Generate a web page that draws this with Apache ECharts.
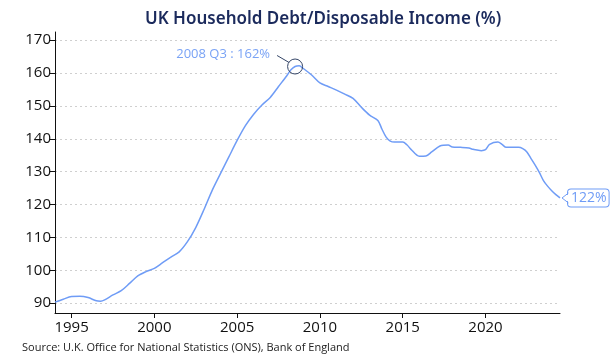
<!DOCTYPE html>
<html><head><meta charset="utf-8">
<script src="https://cdn.jsdelivr.net/npm/echarts@6/dist/echarts.min.js"></script>
<style>html,body{margin:0;padding:0;background:#fff}#c{width:610px;height:355px}</style>
</head><body><div id="c"></div>
<script>
const years = [1994.0,1994.5,1995.0,1995.5,1996.0,1996.5,1996.75,1997.0,1997.5,1998.0,1998.5,1999.0,1999.5,2000.0,2000.5,2001.0,2001.5,2002.0,2002.5,2003.0,2003.5,2004.0,2004.5,2005.0,2005.5,2006.0,2006.5,2007.0,2007.5,2008.0,2008.25,2008.5,2008.75,2009.0,2009.5,2010.0,2010.5,2011.0,2011.5,2012.0,2012.5,2013.0,2013.5,2013.75,2014.0,2014.25,2014.5,2015.0,2015.25,2015.5,2016.0,2016.4,2016.75,2017.25,2017.75,2018.0,2018.5,2019.0,2019.25,2019.75,2020.0,2020.25,2020.75,2021.0,2021.25,2022.0,2022.25,2022.5,2022.75,2023.0,2023.25,2023.5,2023.75,2024.0,2024.25,2024.5];
const debtRatio = [90.3,91.2,92.0,92.1,91.7,90.7,90.6,91.0,92.5,93.8,96.0,98.3,99.6,100.6,102.3,104.0,105.6,108.7,113.0,118.5,124.4,129.5,134.5,139.5,144.0,147.5,150.3,152.6,155.9,159.2,161.0,162.0,162.2,161.4,159.4,157.0,155.9,154.8,153.6,152.3,149.6,147.2,145.6,142.9,140.5,139.3,139.0,139.0,138.2,136.8,134.7,134.8,136.0,137.8,138.1,137.5,137.4,137.2,136.8,136.4,136.7,138.3,139.0,138.3,137.4,137.4,137.0,136.0,134.0,132.0,129.8,127.3,125.6,124.2,123.0,122.0];
const xTicks = [1995,2000,2005,2010,2015,2020];
const yTicks = [90,100,110,120,130,140,150,160,170];
const peakYear = 2008.5, peakValue = 162, peakLabel = '2008 Q3 : 162%';

const blue = '#6f9cf6';
const chart = echarts.init(document.getElementById('c'));
const seriesData = years.map((y,i)=>[y, debtRatio[i]]);
const font = '"Open Sans", sans-serif';
chart.setOption({
  animation:false,
  title:[{
    text:'UK Household Debt/Disposable Income (%)',
    left:140, top:6,
    textStyle:{fontFamily:'"Noto Sans", sans-serif', fontSize:17, fontWeight:600, color:'#1b2a5c'}
  },{
    text:'Source: U.K. Office for National Statistics (ONS), Bank of England',
    left:22, top:342, padding:0,
    textStyle:{fontFamily:font, fontSize:11, fontWeight:'normal', color:'#222'}
  }],
  grid:{left:55, right:50, top:32, bottom:42},
  xAxis:{
    type:'value', min:1994, max:2024.5,
    axisLine:{lineStyle:{color:'#111', width:1}},
    axisTick:{show:true, length:5, lineStyle:{color:'#111'}, customValues:xTicks},
    axisLabel:{customValues:xTicks, formatter:v=>String(v), fontFamily:font, fontSize:15, color:'#111', margin:7},
    splitLine:{show:false}
  },
  yAxis:{
    type:'value', min:87, max:172.5,
    axisLine:{show:true, lineStyle:{color:'#111', width:1}},
    axisTick:{show:true, length:5, lineStyle:{color:'#111'}, customValues:yTicks},
    axisLabel:{customValues:yTicks, formatter:v=>String(v), fontFamily:font, fontSize:15, color:'#111', margin:4},
    splitLine:{show:true, lineStyle:{color:'#cfcfcf', type:[2,3], width:1}}
  },
  series:[{
    type:'line', data:seriesData, smooth:0.3, symbol:'none',
    lineStyle:{color:blue, width:1.5},
    endLabel:{show:true, formatter:p=>p.value[1]+'%', color:blue, fontFamily:font, fontSize:14,
      backgroundColor:'#fff', borderColor:blue, borderWidth:1, borderRadius:3, padding:[2,2,1,3], distance:8},
    markPoint:{
      silent:true,
      data:[{coord:[peakYear, peakValue], symbol:'circle', symbolSize:15,
        itemStyle:{color:'rgba(0,0,0,0)', borderColor:'#334466', borderWidth:1},
        label:{show:true, formatter:peakLabel, position:'left', offset:[-12,-12], color:'#7aa3f5', fontFamily:font, fontSize:13}}]
    }
  }]
});
const peak = chart.convertToPixel({gridIndex:0},[peakYear, peakValue]);
const last = chart.convertToPixel({gridIndex:0},[years[years.length-1], debtRatio[debtRatio.length-1]]);
chart.setOption({graphic:[
  {type:'line', z:100, shape:{x1:peak[0]-18, y1:peak[1]-11, x2:peak[0]-6, y2:peak[1]-4}, style:{stroke:'#334466', lineWidth:1}},
  {type:'polygon', z:100, shape:{points:[[last[0]+2,last[1]],[last[0]+9,last[1]-4],[last[0]+9,last[1]+4]]}, style:{fill:'#fff'}},
  {type:'polyline', z:101, shape:{points:[[last[0]+8.5,last[1]-5],[last[0]+2,last[1]],[last[0]+8.5,last[1]+5]]}, style:{stroke:blue, lineWidth:1, fill:null}}
]});
</script></body></html>
